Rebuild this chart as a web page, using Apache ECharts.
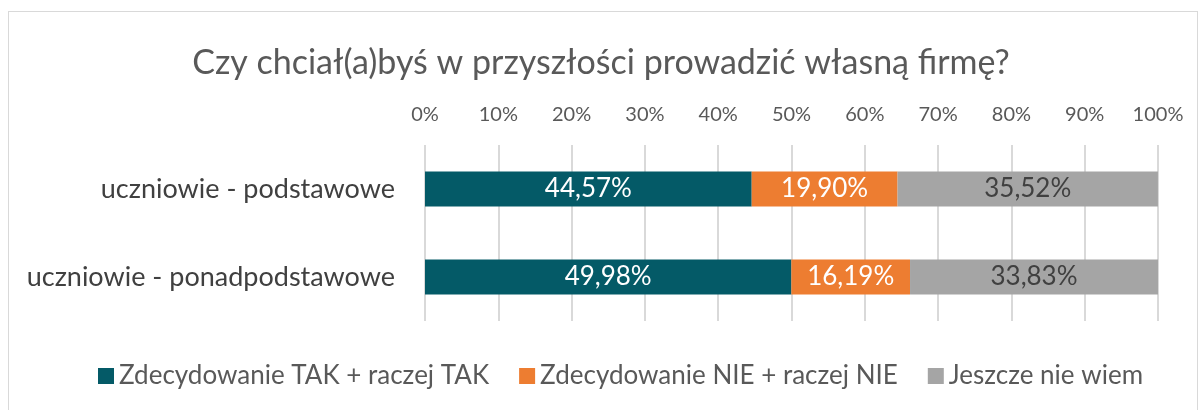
<!DOCTYPE html>
<html>
<head>
	<meta charset="utf-8" />
	<title>Firma</title>
	<script type="text/javascript" src="https://cdn.jsdelivr.net/npm/echarts@6/dist/echarts.min.js"></script>
	<style>
		html, body { margin: 0; padding: 0; background: #fff; }
		#chart { width: 1202px; height: 410px; }
		#frame { position: absolute; left: 8px; top: 11px; width: 1188px; height: 420px; border: 1px solid #d9d9d9; pointer-events: none; }
	</style>
</head>
<body>
	<div id="chart"></div>
	<div id="frame"></div>
	<script type="text/javascript">
		var categories = ['uczniowie - podstawowe', 'uczniowie - ponadpodstawowe'];
		var tak = [44.57, 49.98];
		var nie = [19.90, 16.19];
		var nieWiem = [35.52, 33.83];
		var seriesNames = ['Zdecydowanie TAK + raczej TAK', 'Zdecydowanie NIE + raczej NIE', 'Jeszcze nie wiem'];
		var colors = ['#045a67', '#ed7d31', '#a5a5a5'];

		var font = 'Lato, "Open Sans", sans-serif';
		function pct(p) {
			return p.value.toFixed(2).replace('.', ',') + '%';
		}
		function makeSeries(name, data, color, labelColor) {
			return {
				name: name,
				type: 'bar',
				stack: 'total',
				barWidth: 35,
				data: data,
				itemStyle: { color: color },
				label: {
					show: true,
					position: 'inside',
					color: labelColor,
					fontFamily: font,
					fontSize: 26,
					formatter: pct
				}
			};
		}

		var chart = echarts.init(document.getElementById('chart'), null, { renderer: 'canvas' });
		chart.setOption({
			animation: false,
			textStyle: { fontFamily: font },
			title: {
				text: 'Czy chciał(a)byś w przyszłości prowadzić własną firmę?',
				left: 'center',
				top: 41,
				textStyle: { fontFamily: font, fontSize: 34, fontWeight: 'normal', color: '#595959' }
			},
			legend: {
				bottom: 16,
				left: 93,
				itemWidth: 16,
				itemHeight: 16,
				itemGap: 30,
				itemTextGap: 6,
				icon: 'rect',
				textStyle: { fontFamily: font, fontSize: 26, color: '#595959' },
				data: seriesNames
			},
			grid: { left: 425, right: 44, top: 145, bottom: 89 },
			xAxis: {
				type: 'value',
				position: 'top',
				min: 0,
				max: 100,
				interval: 10,
				axisLine: { show: false },
				axisTick: { show: false },
				axisLabel: { formatter: '{value}%', fontSize: 20, color: '#595959', margin: 20 },
				splitLine: { lineStyle: { color: '#d9d9d9', width: 2 } }
			},
			yAxis: {
				type: 'category',
				inverse: true,
				data: categories,
				axisLine: { show: false },
				axisTick: { show: false },
				axisLabel: { fontSize: 27, color: '#404040', margin: 30 }
			},
			series: [
				makeSeries(seriesNames[0], tak, colors[0], '#ffffff'),
				makeSeries(seriesNames[1], nie, colors[1], '#ffffff'),
				makeSeries(seriesNames[2], nieWiem, colors[2], '#404040')
			]
		});
	</script>
</body>
</html>
